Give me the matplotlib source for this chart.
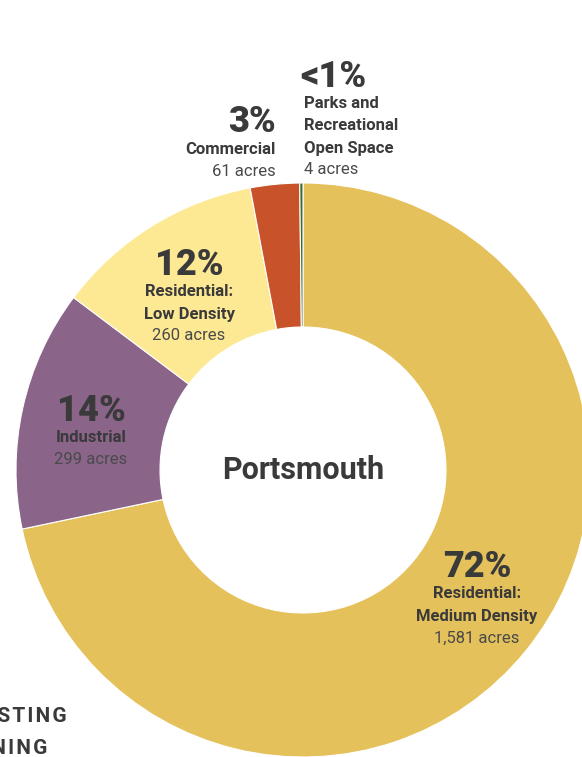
import matplotlib.pyplot as plt

# Land use by zoning district, Portsmouth
categories = ["Residential:\nMedium Density", "Industrial", "Residential:\nLow Density",
              "Commercial", "Parks and\nRecreational\nOpen Space"]
acres = [1581, 299, 260, 61, 4]
colors = ["#E4C15B", "#8A6489", "#FDE994", "#C8532A", "#3C6B34"]

# label anchors (x, y of the percentage line, alignment)
label_pos = [(477, 567, "center"), (91, 411, "center"), (189, 265, "center"),
             (276, 122, "right"), (300, 77, "left")]

TEXT = "#3A3A3A"
FONT = "Roboto"

W, H = 582, 757
fig = plt.figure(figsize=(W / 100, H / 100), dpi=100)
ax = fig.add_axes([0, 0, 1, 1])

cx, cy = 303, H - 470
ax.pie(acres, colors=colors, startangle=90, counterclock=False,
       center=(cx, cy), radius=287, frame=True,
       wedgeprops=dict(width=144, edgecolor="white", linewidth=0.8))
ax.set_xlim(0, W)
ax.set_ylim(0, H)
ax.set_aspect("equal")
ax.axis("off")

ax.text(cx, cy, "Portsmouth", ha="center", va="center", fontsize=22,
        fontweight="bold", color=TEXT, family=FONT)

total = sum(acres)
for cat, a, (x, y, ha) in zip(categories, acres, label_pos):
    pct = a / total * 100
    pct_txt = "<1%" if pct < 1 else f"{pct:.0f}%"
    ax.text(x, H - y, pct_txt, ha=ha, va="center", fontsize=26,
            fontweight="black", color=TEXT, family=FONT)
    lines = cat.split("\n")
    ty = y + 27
    tx = x + 4 if ha == "left" else x
    for line in lines:
        ax.text(tx, H - ty, line, ha=ha, va="center", fontsize=12,
                fontweight="bold", color=TEXT, family=FONT)
        ty += 22
    ax.text(tx, H - ty, f"{a:,} acres", ha=ha, va="center", fontsize=12,
            fontweight="normal", color="#4A4A4A", family=FONT)

# section title in the lower-left corner
ax.text(67, H - 717, "E X I S T I N G".replace(" ", "\u200a"), ha="right", va="center",
        fontsize=15, fontweight="bold", color=TEXT, family=FONT)
ax.text(-40, H - 748, "Z O N I N G".replace(" ", "\u200a"), ha="left", va="center",
        fontsize=15, fontweight="bold", color=TEXT, family=FONT)

fig.savefig("out.png", dpi=100)
